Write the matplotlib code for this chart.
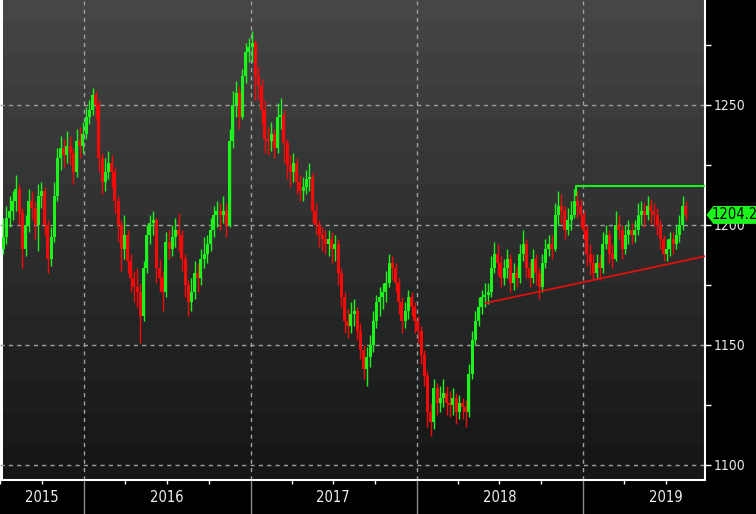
import numpy as np
import pandas as pd
import matplotlib
matplotlib.use('Agg')
import matplotlib.pyplot as plt
import matplotlib.dates as mdates
from matplotlib.patches import Polygon

plt.rcParams['font.family'] = ['DejaVu Sans']
plt.rcParams['font.stretch'] = 'condensed'

# weekly candles (open = previous close)
first_open = 1190
closes = [1195, 1203, 1206, 1210, 1215, 1205, 1190, 1200, 1210, 1207,
          1200, 1212, 1214, 1200, 1186, 1195, 1212, 1228, 1232, 1229,
          1233, 1230, 1222, 1235, 1233, 1238, 1245, 1248, 1254, 1250,
          1228, 1218, 1222, 1226, 1222, 1210, 1200, 1190, 1196, 1185,
          1178, 1174, 1172, 1162, 1182, 1196, 1201, 1202, 1182, 1178,
          1172, 1193, 1190, 1195, 1198, 1196, 1186, 1175, 1168, 1172,
          1180, 1178, 1186, 1188, 1192, 1198, 1204, 1206, 1204, 1206,
          1200, 1235, 1250, 1255, 1245, 1262, 1272, 1274, 1276, 1262,
          1258, 1248, 1236, 1235, 1238, 1232, 1245, 1246, 1234, 1225,
          1222, 1226, 1218, 1214, 1216, 1219, 1220, 1206, 1200, 1196,
          1194, 1192, 1194, 1190, 1192, 1180, 1170, 1160, 1158, 1163,
          1164, 1156, 1148, 1140, 1145, 1150, 1160, 1168, 1170, 1172,
          1176, 1184, 1182, 1176, 1168, 1160, 1164, 1170, 1166, 1160,
          1156, 1146, 1137, 1122, 1118, 1132, 1126, 1128, 1130, 1126,
          1125, 1128, 1122, 1126, 1124, 1122, 1138, 1152, 1160, 1166,
          1170, 1171, 1172, 1182, 1188, 1184, 1178, 1182, 1186, 1176,
          1180, 1178, 1188, 1192, 1182, 1178, 1186, 1180, 1174, 1184,
          1190, 1192, 1190, 1204, 1208, 1206, 1198, 1202, 1204, 1210,
          1208, 1204, 1198, 1188, 1184, 1180, 1184, 1182, 1192, 1196,
          1188, 1186, 1200, 1198, 1190, 1196, 1198, 1196, 1198, 1204,
          1206, 1204, 1208, 1206, 1204, 1200, 1194, 1188, 1190, 1194,
          1192, 1196, 1200, 1208, 1204.21]
highs = [1203, 1208, 1212, 1214, 1221, 1217, 1207, 1204, 1215, 1214,
         1210, 1217, 1218, 1216, 1202, 1199, 1218, 1232, 1237, 1236,
         1239, 1237, 1232, 1240, 1241, 1243, 1249, 1252, 1257, 1256,
         1252, 1230, 1228, 1231, 1229, 1224, 1212, 1202, 1204, 1198,
         1188, 1181, 1182, 1176, 1185, 1200, 1204, 1206, 1203, 1186,
         1181, 1197, 1198, 1200, 1203, 1205, 1198, 1188, 1177, 1178,
         1185, 1184, 1190, 1195, 1196, 1203, 1208, 1210, 1209, 1212,
         1209, 1240, 1256, 1260, 1258, 1265, 1276, 1278, 1281, 1277,
         1266, 1261, 1252, 1241, 1243, 1240, 1251, 1253, 1248, 1236,
         1229, 1230, 1228, 1221, 1220, 1223, 1226, 1222, 1209, 1202,
         1199, 1198, 1198, 1197, 1196, 1194, 1182, 1172, 1165, 1168,
         1169, 1166, 1159, 1150, 1149, 1154, 1164, 1171, 1174, 1176,
         1181, 1188, 1187, 1184, 1178, 1170, 1168, 1173, 1172, 1168,
         1162, 1158, 1148, 1139, 1126, 1136, 1134, 1133, 1136, 1133,
         1131, 1132, 1130, 1129, 1128, 1127, 1142, 1156, 1164, 1170,
         1173, 1176, 1176, 1187, 1193, 1192, 1187, 1186, 1190, 1188,
         1184, 1183, 1192, 1198, 1194, 1185, 1190, 1188, 1182, 1188,
         1194, 1196, 1196, 1209, 1214, 1213, 1208, 1207, 1210, 1215,
         1214, 1211, 1206, 1200, 1192, 1188, 1188, 1188, 1197, 1200,
         1198, 1192, 1206, 1204, 1200, 1200, 1202, 1201, 1202, 1209,
         1210, 1209, 1212, 1211, 1209, 1207, 1202, 1196, 1194, 1197,
         1197, 1200, 1204, 1212, 1210]
lows = [1188, 1192, 1199, 1202, 1206, 1200, 1182, 1187, 1197, 1202,
        1194, 1189, 1207, 1196, 1180, 1183, 1193, 1210, 1223, 1224,
        1226, 1225, 1217, 1220, 1228, 1230, 1236, 1242, 1246, 1244,
        1222, 1213, 1214, 1219, 1216, 1205, 1193, 1181, 1186, 1180,
        1172, 1168, 1166, 1151, 1160, 1180, 1192, 1196, 1176, 1172,
        1164, 1170, 1186, 1187, 1191, 1189, 1181, 1170, 1162, 1164,
        1169, 1172, 1175, 1182, 1184, 1189, 1195, 1199, 1198, 1201,
        1195, 1199, 1232, 1245, 1240, 1244, 1259, 1268, 1268, 1252,
        1252, 1242, 1230, 1229, 1231, 1228, 1230, 1240, 1226, 1219,
        1216, 1218, 1213, 1210, 1210, 1213, 1214, 1201, 1196, 1191,
        1189, 1188, 1187, 1184, 1185, 1175, 1166, 1155, 1153, 1155,
        1158, 1152, 1144, 1136, 1133, 1141, 1147, 1157, 1162, 1165,
        1168, 1174, 1177, 1172, 1163, 1155, 1157, 1161, 1162, 1155,
        1151, 1142, 1133, 1116, 1112, 1115, 1121, 1122, 1124, 1121,
        1120, 1121, 1117, 1119, 1119, 1116, 1120, 1136, 1150, 1158,
        1163, 1166, 1167, 1170, 1180, 1179, 1174, 1175, 1178, 1172,
        1173, 1174, 1176, 1185, 1178, 1174, 1176, 1175, 1169, 1172,
        1182, 1187, 1186, 1189, 1200, 1201, 1194, 1196, 1198, 1203,
        1203, 1199, 1194, 1183, 1179, 1177, 1178, 1177, 1180, 1190,
        1184, 1182, 1185, 1194, 1186, 1188, 1192, 1192, 1193, 1196,
        1200, 1199, 1202, 1201, 1199, 1196, 1190, 1185, 1185, 1187,
        1188, 1190, 1193, 1198, 1202]

# trend lines
support_dates = ['2018-06-01', '2019-09-25']
support_vals = [1167.5, 1187.0]
resist_dates = ['2018-12-17', '2018-12-17', '2019-09-25']
resist_vals = [1212.5, 1216.3, 1216.3]

y_ticks = [1100, 1150, 1200, 1250]
year_labels = ['2015', '2016', '2017', '2018', '2019']
year_label_dates = ['2015-10-01', '2016-07-01', '2017-07-01', '2018-07-01', '2019-07-01']
year_starts = ['2016-01-01', '2017-01-01', '2018-01-01', '2019-01-01']
last_price = 1204.21

dates = pd.date_range('2015-07-08', periods=len(closes), freq='7D')
x = mdates.date2num(dates)
c = np.array(closes, dtype=float)
o = np.array([first_open] + closes[:-1], dtype=float)
h = np.maximum(np.array(highs, dtype=float), np.maximum(o, c))
l = np.minimum(np.array(lows, dtype=float), np.minimum(o, c))

GREEN = '#1cf51c'
RED = '#f50a0a'
cols = [GREEN if cc >= oo else RED for oo, cc in zip(o, c)]

fig = plt.figure(figsize=(7.56, 5.14), dpi=100, facecolor='black')
ax = fig.add_axes([0, 34 / 514, 705 / 756, 480 / 514])

x0 = mdates.date2num(pd.Timestamp('2015-07-07'))
x1 = mdates.date2num(pd.Timestamp('2019-09-25'))
ymin, ymax = 1093.75, 1293.75

# stepped gradient background
top = np.array([0x46, 0x46, 0x46]) / 255
bot = np.array([0x12, 0x14, 0x13]) / 255
rows = np.arange(480)
band = np.floor((rows + 13) / 32.7)
t = band / band.max()
bg = (top[None, :] * (1 - t[:, None]) + bot[None, :] * t[:, None])[:, None, :]
ax.imshow(bg, extent=[x0, x1, ymin, ymax], aspect='auto', interpolation='nearest', zorder=0)

# grid
grid_kw = dict(color='#a0a0a0', lw=1, ls=(0, (3, 3)), zorder=1)
for yv in y_ticks:
    ax.axhline(yv, **grid_kw)
for d in year_starts:
    ax.axvline(mdates.date2num(pd.Timestamp(d)), **grid_kw)

# candles
ax.vlines(x, l, h, colors=cols, lw=1, zorder=3)
ax.bar(x, np.maximum(np.abs(c - o), 1.0), bottom=np.minimum(o, c), width=6.6,
       color=cols, linewidth=0, zorder=3)

# trend lines
ax.plot(mdates.date2num(pd.to_datetime(support_dates)), support_vals, color='#e01010', lw=1.3, zorder=4)
ax.plot(mdates.date2num(pd.to_datetime(resist_dates)), resist_vals, color='#1cf51c', lw=1.5, zorder=4)

ax.set_xlim(x0, x1)
ax.set_ylim(ymin, ymax)

# axes styling
for s in ['top', 'left']:
    ax.spines[s].set_visible(False)
for s in ['right', 'bottom']:
    ax.spines[s].set_color('white')
    ax.spines[s].set_linewidth(1.5)
ax.yaxis.tick_right()
ax.set_yticks(y_ticks)
ax.set_yticks([1125, 1175, 1225, 1275], minor=True)
ax.tick_params(axis='y', which='both', colors='white', length=4, width=1, labelsize=10, pad=2,
               labelcolor='#e8e8e8')
ax.set_xticks([])
qticks = [d for d in pd.date_range('2015-07-01', '2019-09-30', freq='QS') if d.month != 1]
ax.set_xticks(mdates.date2num(qticks), minor=True)
ax.tick_params(axis='x', which='minor', colors='white', length=3, width=1)

# year separators and labels under the axis
xt = ax.get_xaxis_transform()
for d in year_starts:
    xv = mdates.date2num(pd.Timestamp(d))
    ax.plot([xv, xv], [0, -34 / 480], transform=xt, color='#8a8a8a', lw=1, clip_on=False)
for lab, d in zip(year_labels, year_label_dates):
    ax.text(mdates.date2num(pd.Timestamp(d)), -17 / 480, lab, transform=xt, color='#f0f0f0',
            fontsize=10.5, ha='center', va='center')

# last price tag
yt = ax.get_yaxis_transform()
hh = 9 / 2.4
tag = Polygon([(1.002, last_price), (1.012, last_price + hh), (1.2, last_price + hh),
               (1.2, last_price - hh), (1.012, last_price - hh)], closed=True,
              transform=yt, facecolor='#1cf51c', edgecolor='none', clip_on=False, zorder=10)
ax.add_patch(tag)
ax.text(1.009, last_price, f'{last_price:.2f}', transform=yt, color='black', fontsize=10.5,
        ha='left', va='center', zorder=11, clip_on=False)

fig.savefig('out.png', dpi=100, facecolor='black')
